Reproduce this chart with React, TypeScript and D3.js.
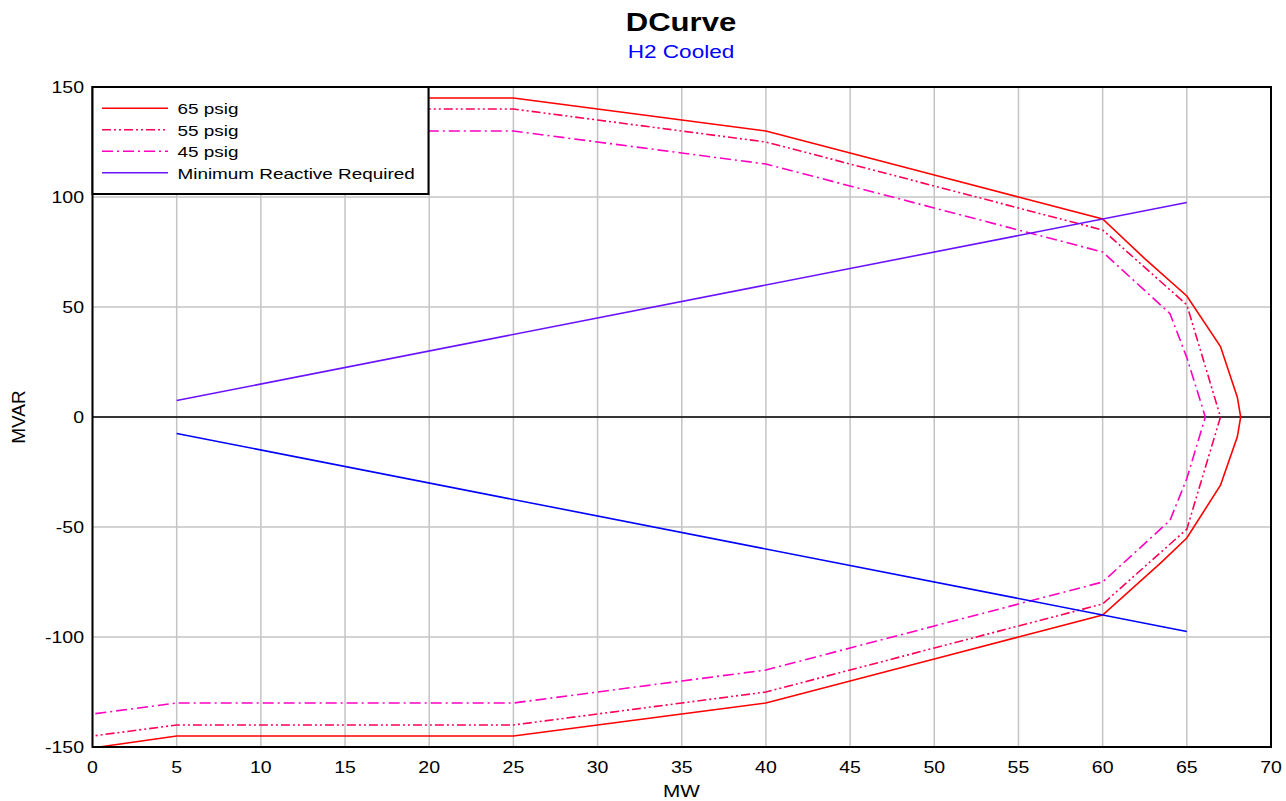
import React from 'react'
import * as d3 from 'd3'

// MW values (x) and MVAR values (y)
const mw65 = [0, 5, 25, 30, 35, 40, 45, 50, 55, 60, 62.5, 65, 67, 68, 68.2, 68, 67, 65, 63.5, 60, 55, 50, 45, 40, 35, 30, 25, 5, 0.4]
const mvar65 = [150, 145, 145, 140, 135, 130, 120, 110, 100, 90, 72, 55, 32, 9, 0, -9, -31, -55, -66, -90, -100, -110, -120, -130, -135, -140, -145, -145, -150]

const mw55 = [0, 5, 25, 30, 35, 40, 45, 50, 55, 60, 65, 67, 65, 60, 55, 50, 45, 40, 35, 30, 25, 5, 0]
const mvar55 = [145, 140, 140, 135, 130, 125, 115, 105, 95, 85, 51, 0, -51, -85, -95, -105, -115, -125, -130, -135, -140, -140, -145]

const mw45 = [0, 5, 25, 30, 35, 40, 45, 50, 55, 60, 64, 65, 66.1, 65, 64, 60, 55, 50, 45, 40, 35, 30, 25, 5, 0]
const mvar45 = [135, 130, 130, 125, 120, 115, 105, 95, 85, 75, 47, 27, 0, -28, -47, -75, -85, -95, -105, -115, -120, -125, -130, -130, -135]

const mwMin = [5, 65]
const mvarMinUpper = [7.5, 97.5]
const mvarMinLower = [-7.5, -97.5]

const xTicks = [0, 5, 10, 15, 20, 25, 30, 35, 40, 45, 50, 55, 60, 65, 70]
const yTicks = [-150, -100, -50, 0, 50, 100, 150]

const legendLabels = ['65 psig', '55 psig', '45 psig', 'Minimum Reactive Required']

const W = 1286
const H = 801
const margin = { top: 87, right: 15, bottom: 54, left: 92.5 }
const FONT = '"Liberation Sans", Arial, sans-serif'
const SX = 1.22 // the source picture is stretched sideways

const zip = (xs: number[], ys: number[]) => xs.map((x, i) => [x, ys[i]] as [number, number])

export default function App() {
  const x = d3.scaleLinear().domain([0, 70]).range([margin.left, W - margin.right])
  const y = d3.scaleLinear().domain([-150, 150]).range([H - margin.bottom, margin.top])
  const line = d3.line<[number, number]>().x(d => x(d[0])).y(d => y(d[1]))

  const series = [
    { pts: zip(mw65, mvar65), color: '#ff0000', dash: undefined },
    { pts: zip(mw55, mvar55), color: '#ff0055', dash: '9,3,2,3,2,3' },
    { pts: zip(mw45, mvar45), color: '#ff00c0', dash: '11,4,2,4' },
    { pts: zip(mwMin, mvarMinUpper), color: '#6a12ff', dash: undefined },
    { pts: zip(mwMin, mvarMinLower), color: '#0000ff', dash: undefined },
  ]

  const txt = (tx: number, ty: number) => `translate(${tx},${ty}) scale(${SX},1)`

  return (
    <svg width={W} height={H} style={{ position: 'absolute', left: 0, top: 0, background: '#fff' }} fontFamily={FONT}>
      <rect width={W} height={H} fill="#fff" />
      <text transform={txt(681, 31)} textAnchor="middle" fontSize={25.5} fontWeight="bold">DCurve</text>
      <text transform={txt(681, 57.5)} textAnchor="middle" fontSize={18.5} fill="#0000ff">H2 Cooled</text>

      {/* grid */}
      {xTicks.map(t => (
        <line key={'gx' + t} x1={x(t)} x2={x(t)} y1={y(150)} y2={y(-150)} stroke="#c4c4c4" strokeWidth={1.5} />
      ))}
      {yTicks.map(t => (
        <line key={'gy' + t} x1={x(0)} x2={x(70)} y1={y(t)} y2={y(t)} stroke="#c4c4c4" strokeWidth={1.5} />
      ))}
      <line x1={x(0)} x2={x(70)} y1={y(0)} y2={y(0)} stroke="#000" strokeWidth={1.5} />

      {series.map((s, i) => (
        <path key={i} d={line(s.pts) || ''} fill="none" stroke={s.color} strokeWidth={1.6} strokeDasharray={s.dash} />
      ))}

      <rect x={x(0)} y={y(150)} width={x(70) - x(0)} height={y(-150) - y(150)} fill="none" stroke="#000" strokeWidth={2} />

      {/* tick labels */}
      {xTicks.map(t => (
        <text key={'tx' + t} transform={txt(x(t), 773)} textAnchor="middle" fontSize={16}>{t}</text>
      ))}
      {yTicks.map(t => (
        <text key={'ty' + t} transform={txt(84, y(t) + 6)} textAnchor="end" fontSize={16}>{t}</text>
      ))}

      <text transform={txt(681.5, 797)} textAnchor="middle" fontSize={17}>MW</text>
      <text transform={`translate(25,${y(0)}) rotate(-90)`} textAnchor="middle" fontSize={19}>MVAR</text>

      {/* legend */}
      <rect x={x(0)} y={y(150)} width={336} height={107} fill="#fff" stroke="#000" strokeWidth={2} />
      {legendLabels.map((l, i) => {
        const ly = 108.3 + i * 21.5
        const s = series[i]
        return (
          <g key={l}>
            <line x1={102} x2={168} y1={ly} y2={ly} stroke={s.color} strokeWidth={1.6} strokeDasharray={s.dash} />
            <text transform={txt(177.5, ly + 6)} fontSize={15.5}>{l}</text>
          </g>
        )
      })}
    </svg>
  )
}
